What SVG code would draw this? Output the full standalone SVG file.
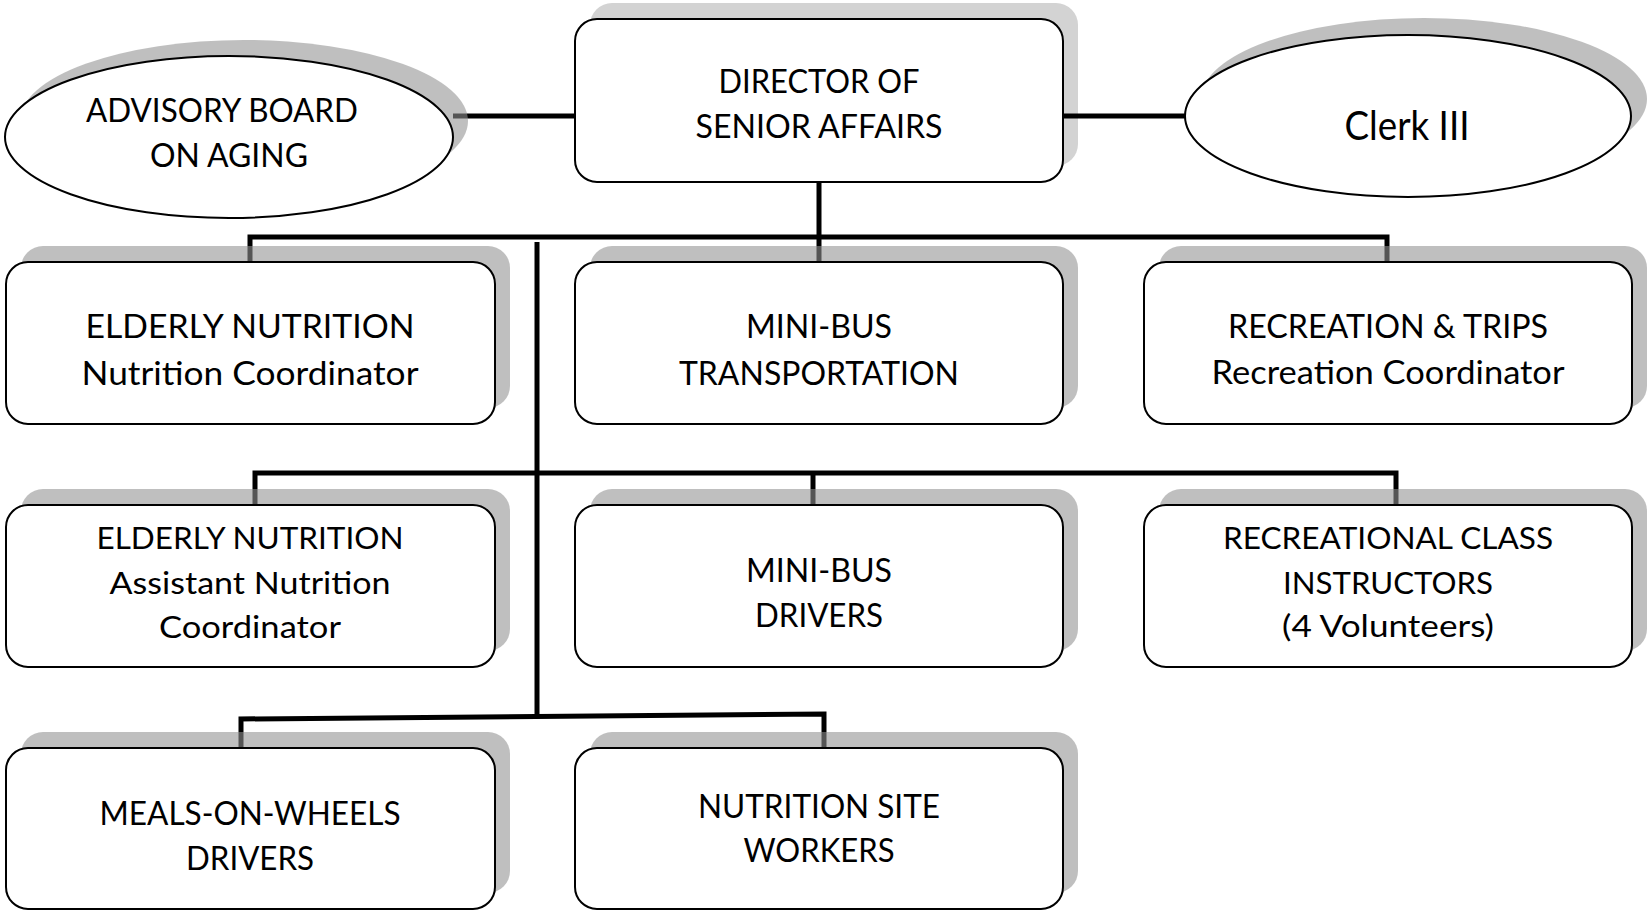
<svg xmlns="http://www.w3.org/2000/svg" width="1648" height="914" viewBox="0 0 1648 914">
  <style>
    .bg { fill: #ffffff; }
    .box { fill: #ffffff; stroke: #000000; stroke-width: 2; }
    .shadow { fill: #919191; fill-opacity: 0.584; }
    .shadow-light { fill: #d3d3d3; }
    .link { fill: none; stroke: #000000; stroke-width: 5; stroke-linecap: butt; stroke-linejoin: miter; }
    .label { font-family: "Lato", "Liberation Sans", sans-serif; font-size: 32px; fill: #000000; text-anchor: middle; }
    .label-small { font-family: "Lato", "Liberation Sans", sans-serif; font-size: 30px; fill: #000000; text-anchor: middle; }
    .label-big { font-family: "Lato", "Liberation Sans", sans-serif; font-size: 40px; fill: #000000; text-anchor: middle; }
  </style>

  <rect class="bg" x="0" y="0" width="1648" height="914"/>

  <!-- top node: its shadow sits under the side connectors -->
  <g id="director">
    <rect class="shadow-light" x="590" y="3" width="488" height="163" rx="22"/>
    <rect class="box" x="575" y="19" width="488" height="163" rx="22"/>
    <text class="label" x="819" y="93" textLength="201" lengthAdjust="spacingAndGlyphs">DIRECTOR OF</text>
    <text class="label" x="819" y="138" textLength="247" lengthAdjust="spacingAndGlyphs">SENIOR AFFAIRS</text>
  </g>

  <!-- connectors, drawn before the remaining nodes so their shadows tint the lines -->
  <g id="connectors">
    <path class="link" d="M453,116 H576"/>
    <path class="link" d="M1062,116 H1186"/>
    <path class="link" d="M819,182 V263"/>
    <path class="link" d="M250,263 V237 H1387 V263"/>
    <path class="link" d="M537,242 V716"/>
    <path class="link" d="M255,506 V473 H1396 V506"/>
    <path class="link" d="M813,473 V506"/>
    <path class="link" d="M241,749 V719 L824,714 V749"/>
  </g>

  <g id="advisory-board">
    <ellipse class="shadow" cx="244" cy="121" rx="224" ry="81"/>
    <ellipse class="box" cx="229" cy="137" rx="224" ry="81"/>
    <text class="label" x="222" y="122" textLength="272" lengthAdjust="spacingAndGlyphs">ADVISORY BOARD</text>
    <text class="label" x="229" y="167" textLength="158" lengthAdjust="spacingAndGlyphs">ON AGING</text>
  </g>

  <g id="clerk">
    <ellipse class="shadow" cx="1424" cy="99" rx="223" ry="81"/>
    <ellipse class="box" cx="1408" cy="116" rx="223" ry="81"/>
    <text class="label-big" x="1407" y="140" textLength="125" lengthAdjust="spacingAndGlyphs">Clerk III</text>
  </g>

  <g id="nutrition-coordinator">
    <rect class="shadow" x="21" y="246" width="489" height="162" rx="22"/>
    <rect class="box" x="6" y="262" width="489" height="162" rx="22"/>
    <text class="label" x="250" y="338" textLength="329" lengthAdjust="spacingAndGlyphs">ELDERLY NUTRITION</text>
    <text class="label" x="250" y="385" textLength="337" lengthAdjust="spacingAndGlyphs">Nutrition Coordinator</text>
  </g>

  <g id="minibus-transportation">
    <rect class="shadow" x="590" y="246" width="488" height="162" rx="22"/>
    <rect class="box" x="575" y="262" width="488" height="162" rx="22"/>
    <text class="label" x="819" y="338" textLength="146" lengthAdjust="spacingAndGlyphs">MINI-BUS</text>
    <text class="label" x="819" y="385" textLength="280" lengthAdjust="spacingAndGlyphs">TRANSPORTATION</text>
  </g>

  <g id="recreation-coordinator">
    <rect class="shadow" x="1159" y="246" width="488" height="162" rx="22"/>
    <rect class="box" x="1144" y="262" width="488" height="162" rx="22"/>
    <text class="label" x="1388" y="338" textLength="320" lengthAdjust="spacingAndGlyphs">RECREATION &amp; TRIPS</text>
    <text class="label" x="1388" y="384" textLength="353" lengthAdjust="spacingAndGlyphs">Recreation Coordinator</text>
  </g>

  <g id="assistant-nutrition-coordinator">
    <rect class="shadow" x="21" y="489" width="489" height="162" rx="22"/>
    <rect class="box" x="6" y="505" width="489" height="162" rx="22"/>
    <text class="label-small" x="250" y="549" textLength="307" lengthAdjust="spacingAndGlyphs">ELDERLY NUTRITION</text>
    <text class="label-small" x="250" y="594" textLength="281" lengthAdjust="spacingAndGlyphs">Assistant Nutrition</text>
    <text class="label-small" x="250" y="638" textLength="182" lengthAdjust="spacingAndGlyphs">Coordinator</text>
  </g>

  <g id="minibus-drivers">
    <rect class="shadow" x="590" y="489" width="488" height="162" rx="22"/>
    <rect class="box" x="575" y="505" width="488" height="162" rx="22"/>
    <text class="label" x="819" y="582" textLength="146" lengthAdjust="spacingAndGlyphs">MINI-BUS</text>
    <text class="label" x="819" y="627" textLength="128" lengthAdjust="spacingAndGlyphs">DRIVERS</text>
  </g>

  <g id="class-instructors">
    <rect class="shadow" x="1159" y="489" width="488" height="162" rx="22"/>
    <rect class="box" x="1144" y="505" width="488" height="162" rx="22"/>
    <text class="label-small" x="1388" y="549" textLength="330" lengthAdjust="spacingAndGlyphs">RECREATIONAL CLASS</text>
    <text class="label-small" x="1388" y="594" textLength="210" lengthAdjust="spacingAndGlyphs">INSTRUCTORS</text>
    <text class="label-small" x="1388" y="637" textLength="212" lengthAdjust="spacingAndGlyphs">(4 Volunteers)</text>
  </g>

  <g id="meals-on-wheels">
    <rect class="shadow" x="21" y="732" width="489" height="161" rx="22"/>
    <rect class="box" x="6" y="748" width="489" height="161" rx="22"/>
    <text class="label" x="250" y="825" textLength="301" lengthAdjust="spacingAndGlyphs">MEALS-ON-WHEELS</text>
    <text class="label" x="250" y="870" textLength="128" lengthAdjust="spacingAndGlyphs">DRIVERS</text>
  </g>

  <g id="nutrition-site-workers">
    <rect class="shadow" x="590" y="732" width="488" height="161" rx="22"/>
    <rect class="box" x="575" y="748" width="488" height="161" rx="22"/>
    <text class="label" x="819" y="818" textLength="242" lengthAdjust="spacingAndGlyphs">NUTRITION SITE</text>
    <text class="label" x="819" y="862" textLength="151" lengthAdjust="spacingAndGlyphs">WORKERS</text>
  </g>
</svg>
